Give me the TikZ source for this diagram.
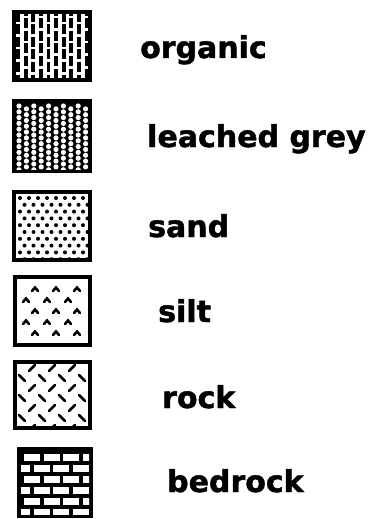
\documentclass[tikz,border=0pt]{standalone}
\usepackage{fontspec}
\newfontfamily\legendfont{DejaVu Sans}[BoldFeatures={FakeBold=1.5}]
\usetikzlibrary{positioning}

\begin{document}
\begin{tikzpicture}[x=1pt, y=-1pt,
    soilbox/.style={rectangle, draw=black, line width=4.5pt, inner sep=0pt, outer sep=0pt, minimum width=76pt, minimum height=68pt},
    soillabel/.style={anchor=base west, inner sep=0pt, font=\legendfont\bfseries\fontsize{30}{32}\selectfont},
    grain/.style={line width=2.6pt, line cap=round}]

    \useasboundingbox (0,0) rectangle (372,519);

    % legend swatches
    \node [soilbox] (organic) at (52,46) {};
    \node [soilbox, minimum height=70pt] (leached) at (52,136) {};
    \node [soilbox] (sand) at (52,226) {};
    \node [soilbox, minimum width=75pt] (silt) at (52.5,311) {};
    \node [soilbox, minimum width=75pt, minimum height=66pt] (rock) at (52.5,395) {};
    \node [soilbox, minimum width=72pt, minimum height=67pt] (bedrock) at (55,482.5) {};

    % organic: staggered vertical strokes
    \begin{scope}
        \clip ([shift={(2pt,-2pt)}]organic.north west) rectangle ([shift={(-2pt,2pt)}]organic.south east);
        \begin{scope}[shift={(organic.north west)}]
        \foreach \col in {0,...,10} {
            \pgfmathsetmacro\ph{mod(\col,2)*6}
            \draw[line width=3.8pt, dash pattern=on 10pt off 2.5pt, dash phase=\ph pt] (\col*7.6+4,0) -- (\col*7.6+4,70);
        }
        \end{scope}
    \end{scope}

    % leached grey: white holes on black
    \begin{scope}
        \clip ([shift={(2pt,-2pt)}]leached.north west) rectangle ([shift={(-2pt,2pt)}]leached.south east);
        \begin{scope}[shift={(leached.north west)}]
        \fill[black] (0,0) rectangle (80,72);
        \foreach \col in {0,...,10}
            \foreach \row in {0,...,12}
                \fill[white] ({\col*7.4+5}, {\row*5.8+5+mod(\col,2)*2.9}) circle (2.6pt);
        \end{scope}
    \end{scope}

    % sand: black dots
    \begin{scope}
        \clip ([shift={(2pt,-2pt)}]sand.north west) rectangle ([shift={(-2pt,2pt)}]sand.south east);
        \begin{scope}[shift={(sand.north west)}]
        \foreach \row in {0,...,9}
            \foreach \col in {0,...,8}
                \fill[black] ({\col*9+6+mod(\row,2)*4.5}, {\row*6.8+6}) circle (2pt);
        \end{scope}
    \end{scope}

    % silt: carets
    \begin{scope}
        \clip ([shift={(2pt,-2pt)}]silt.north west) rectangle ([shift={(-2pt,2pt)}]silt.south east);
        \begin{scope}[shift={(silt.north west)}]
        \foreach \row in {0,...,4}
            \foreach \col in {0,...,2}
                \draw[grain] ({\col*21+20-mod(\row,2)*9-3}, {\row*11+14}) -- ++(3,-3.5) -- ++(3,3.5);
        \end{scope}
    \end{scope}

    % rock: crossed dashes
    \begin{scope}
        \clip ([shift={(2pt,-2pt)}]rock.north west) rectangle ([shift={(-2pt,2pt)}]rock.south east);
        \begin{scope}[shift={(rock.north west)}]
        \foreach \row in {0,...,6}
            \foreach \col in {0,...,4} {
                \ifodd\row
                    \draw[grain] ({\col*20+7-3}, {\row*10+6-3}) -- ++(6,6);
                \else
                    \draw[grain] ({\col*20+17-3}, {\row*10+6+3}) -- ++(6,-6);
                \fi
            }
        \end{scope}
    \end{scope}

    % bedrock: bricks
    \begin{scope}
        \clip ([shift={(2pt,-2pt)}]bedrock.north west) rectangle ([shift={(-2pt,2pt)}]bedrock.south east);
        \begin{scope}[shift={(bedrock.north west)}]
        \fill[black] (0,0) rectangle (80,72);
        \foreach \row in {0,...,5}
            \foreach \col in {-1,...,4}
                \fill[white] ({\col*19.5+mod(\row,2)*9.75+5}, {\row*11+4.5}) rectangle ++(16,7);
        \end{scope}
    \end{scope}

    % labels
    \node [soillabel] (organiclbl) at (140,58) {organic};
    \node [soillabel] (leachedlbl) at (147,147) {leached grey};
    \node [soillabel] (sandlbl) at (148,237) {sand};
    \node [soillabel] (siltlbl) at (158,322) {silt};
    \node [soillabel] (rocklbl) at (162,408) {rock};
    \node [soillabel] (bedrocklbl) at (167,492) {bedrock};
\end{tikzpicture}
\end{document}
